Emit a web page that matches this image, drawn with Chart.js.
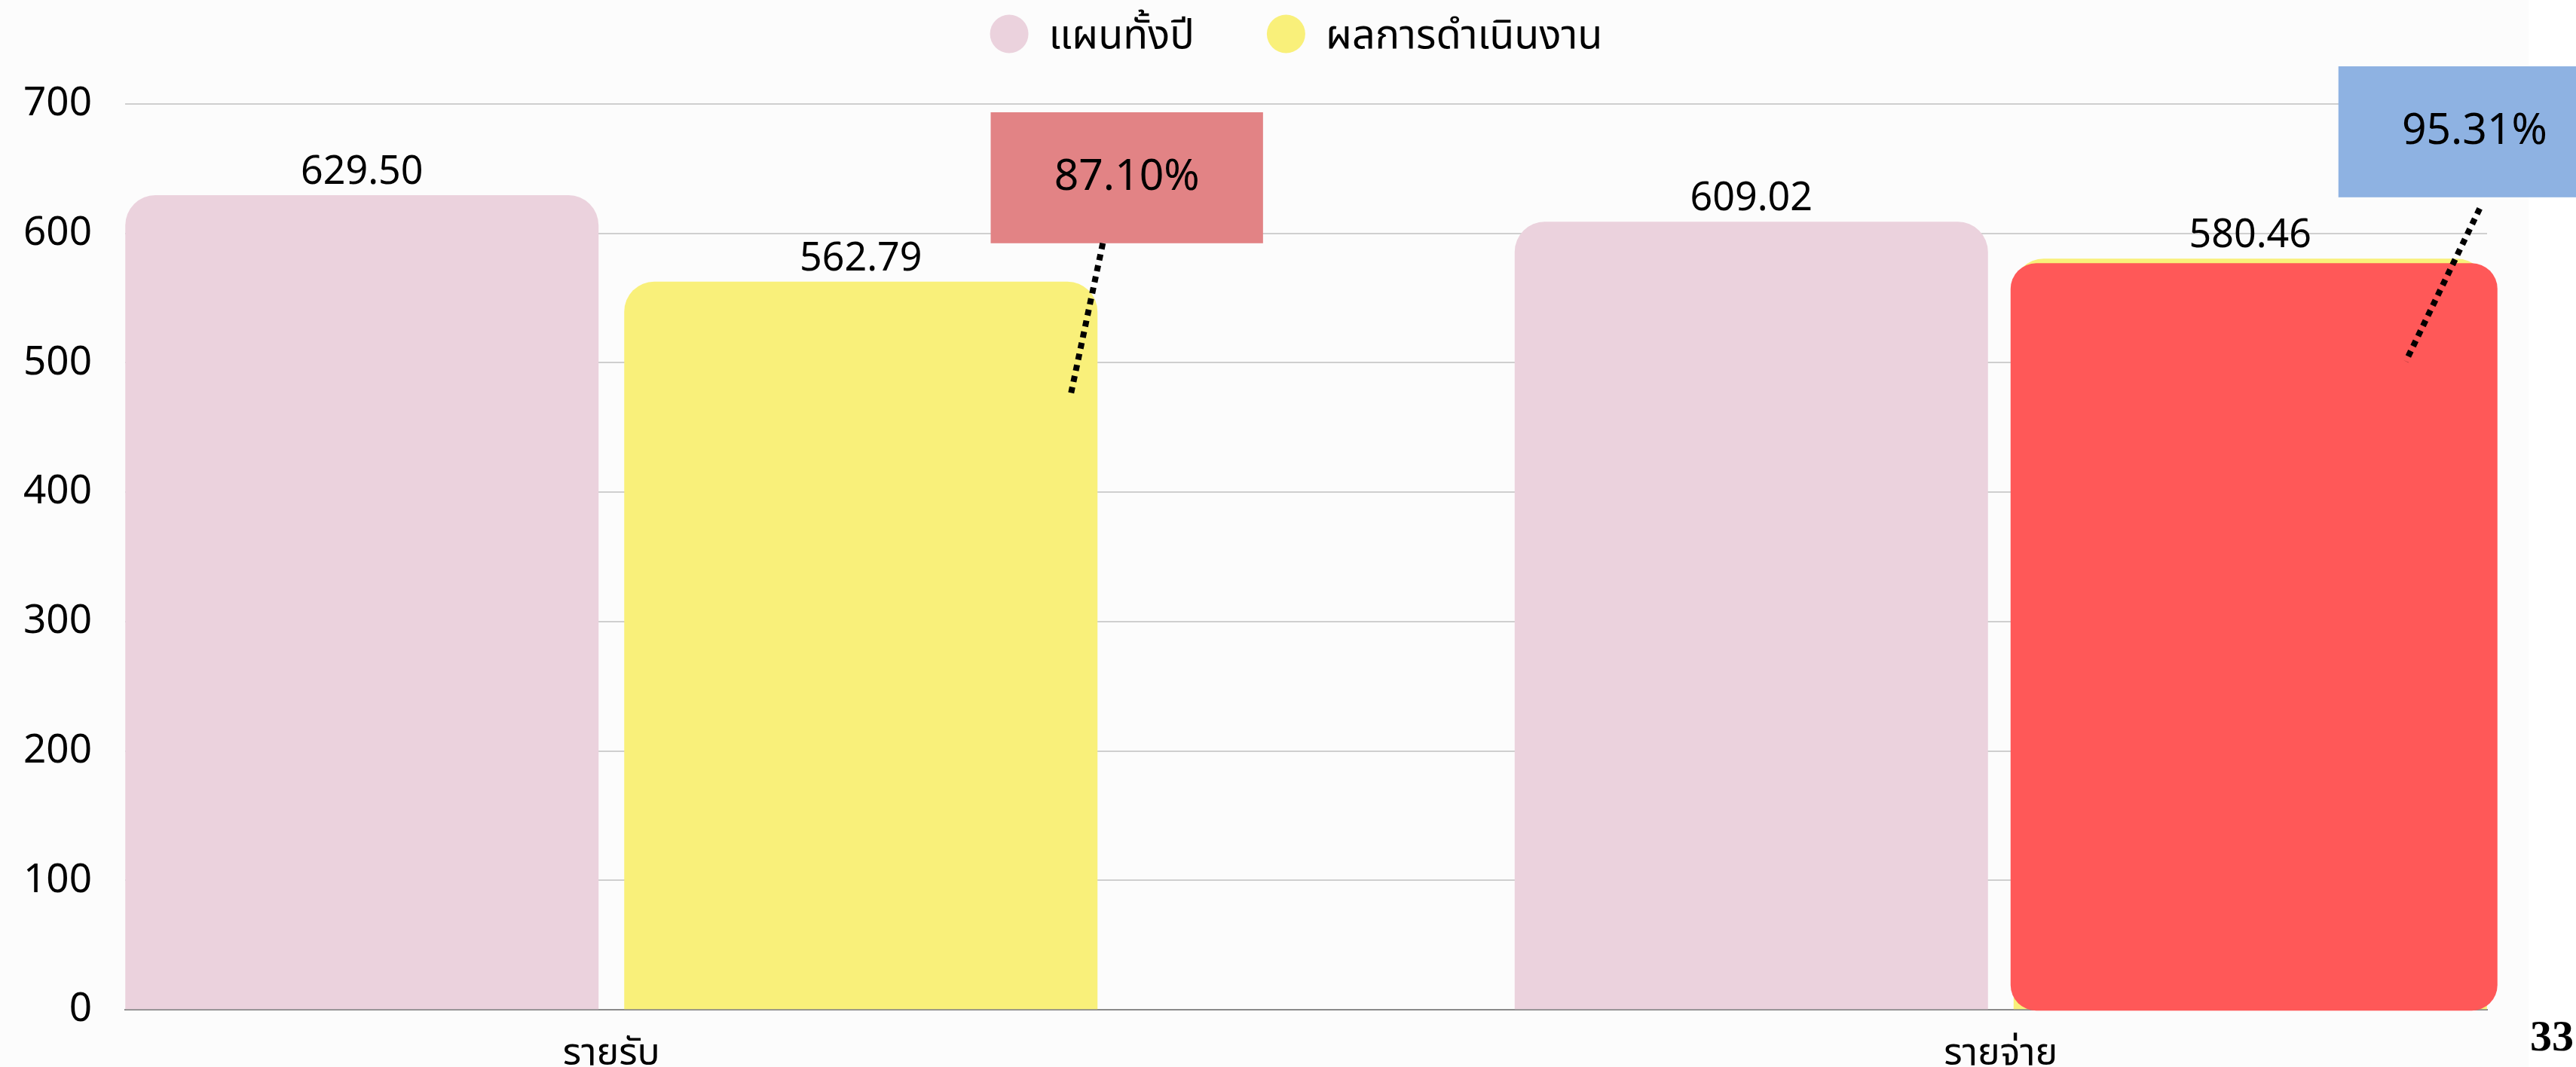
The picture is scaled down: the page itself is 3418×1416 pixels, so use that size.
<!DOCTYPE html>
<html>
<head>
<meta charset="utf-8">
<script src="https://cdn.jsdelivr.net/npm/chart.js@4.4.1/dist/chart.umd.min.js"></script>
<style>
  html, body { margin: 0; padding: 0; background: #ffffff; }
</style>
</head>
<body>
<canvas id="budgetChart" width="3418" height="1416"></canvas>
<script>
  const categories = ['รายรับ', 'รายจ่าย'];
  const seriesNames = ['แผนทั้งปี', 'ผลการดำเนินงาน'];
  const planValues = [629.50, 609.02];
  const actualValues = [562.79, 580.46];
  const achievedPct = ['87.10%', '95.31%'];
  const yTickValues = [0, 100, 200, 300, 400, 500, 600, 700];
  const pageNumber = '33';

  const FONT = "'Noto Sans', 'Noto Sans Thai', sans-serif";
  Chart.defaults.font.family = FONT;
  Chart.defaults.color = '#000000';

  // light slide background, white strip on the far right
  const pageBackground = {
    id: 'pageBackground',
    beforeDraw(chart) {
      const ctx = chart.ctx;
      ctx.save();
      ctx.fillStyle = '#ffffff';
      ctx.fillRect(0, 0, chart.width, chart.height);
      ctx.fillStyle = '#fcfcfc';
      ctx.fillRect(0, 0, 3355, chart.height);
      ctx.restore();
    }
  };

  // red highlight block laid over the second "actual" bar
  const highlightBar = {
    id: 'highlightBar',
    afterDatasetsDraw(chart, args, opts) {
      const bar = chart.getDatasetMeta(opts.datasetIndex).data[opts.index];
      if (!bar) return;
      const ctx = chart.ctx;
      const left = bar.x - bar.width / 2 - opts.padLeft;
      const right = bar.x + bar.width / 2 + opts.padRight;
      const top = bar.y + opts.padTop;
      const bottom = bar.base + opts.padBottom;
      ctx.save();
      ctx.fillStyle = opts.color;
      ctx.beginPath();
      ctx.roundRect(left, top, right - left, bottom - top, opts.radius);
      ctx.fill();
      ctx.restore();
    }
  };

  const valueLabels = {
    id: 'valueLabels',
    afterDatasetsDraw(chart, args, opts) {
      const ctx = chart.ctx;
      ctx.save();
      ctx.font = opts.font;
      ctx.fillStyle = '#000000';
      ctx.textAlign = 'center';
      ctx.textBaseline = 'alphabetic';
      chart.data.datasets.forEach((ds, di) => {
        chart.getDatasetMeta(di).data.forEach((bar, i) => {
          ctx.fillText(ds.data[i].y.toFixed(2), bar.x, bar.y - opts.offset);
        });
      });
      ctx.restore();
    }
  };

  const callouts = {
    id: 'callouts',
    afterDatasetsDraw(chart, args, opts) {
      const { ctx, scales: { x, y } } = chart;
      ctx.save();
      opts.items.forEach((c, i) => {
        const l = x.getPixelForValue(c.box[0]);
        const r = x.getPixelForValue(c.box[1]);
        const t = y.getPixelForValue(c.box[2]);
        const b = y.getPixelForValue(c.box[3]);
        ctx.fillStyle = c.color;
        ctx.fillRect(l, t, r - l, b - t);
        ctx.fillStyle = '#000000';
        ctx.font = opts.font;
        ctx.textAlign = 'center';
        ctx.textBaseline = 'middle';
        ctx.fillText(achievedPct[i], (l + r) / 2, (t + b) / 2);

        ctx.strokeStyle = '#000000';
        ctx.lineWidth = 8;
        ctx.setLineDash([8, 7]);
        ctx.beginPath();
        ctx.moveTo(x.getPixelForValue(c.line[0]), y.getPixelForValue(c.line[1]));
        ctx.lineTo(x.getPixelForValue(c.line[2]), y.getPixelForValue(c.line[3]));
        ctx.stroke();
        ctx.setLineDash([]);
      });
      ctx.restore();
    }
  };

  const dotLegend = {
    id: 'dotLegend',
    afterDraw(chart, args, opts) {
      const ctx = chart.ctx;
      ctx.save();
      ctx.font = opts.font;
      const items = chart.data.datasets.map(ds => ({
        text: ds.label,
        color: ds.backgroundColor,
        w: ctx.measureText(ds.label).width
      }));
      const total = items.reduce((s, it) => s + opts.dot + opts.gap + it.w, 0) + opts.spacing * (items.length - 1);
      let x = opts.centerX - total / 2;
      items.forEach(it => {
        ctx.fillStyle = it.color;
        ctx.beginPath();
        ctx.arc(x + opts.dot / 2, opts.y, opts.dot / 2, 0, Math.PI * 2);
        ctx.fill();
        x += opts.dot + opts.gap;
        ctx.fillStyle = '#000000';
        ctx.textAlign = 'left';
        ctx.textBaseline = 'middle';
        ctx.fillText(it.text, x, opts.y + opts.textShift);
        x += it.w + opts.spacing;
      });
      ctx.restore();
    }
  };

  const pageNo = {
    id: 'pageNo',
    afterDraw(chart) {
      const ctx = chart.ctx;
      ctx.save();
      ctx.font = "bold 58px 'Liberation Serif', serif";
      ctx.fillStyle = '#000000';
      ctx.textAlign = 'left';
      ctx.textBaseline = 'alphabetic';
      ctx.fillText(pageNumber, 3357, 1394);
      ctx.restore();
    }
  };

  const toPoints = values => values.map((v, i) => ({ x: i, y: v }));

  new Chart(document.getElementById('budgetChart'), {
    type: 'bar',
    data: {
      datasets: [
        {
          label: seriesNames[0],
          data: toPoints(planValues),
          backgroundColor: '#ebd2dd',
          borderRadius: 40,
          categoryPercentage: 0.7182,
          barPercentage: 0.9486
        },
        {
          label: seriesNames[1],
          data: toPoints(actualValues),
          backgroundColor: '#f9f07a',
          borderRadius: 40,
          categoryPercentage: 0.7182,
          barPercentage: 0.9486
        }
      ]
    },
    options: {
      responsive: false,
      animation: false,
      layout: { padding: { top: 138, right: 118, left: 0, bottom: 0 } },
      scales: {
        x: {
          type: 'linear',
          min: -0.35,
          max: 1.35,
          offset: false,
          afterBuildTicks: scale => { scale.ticks = categories.map((c, i) => ({ value: i })); },
          afterFit: scale => { scale.height = 74; },
          ticks: {
            callback: value => categories[value],
            font: { size: 50 },
            padding: 21,
            maxRotation: 0,
            autoSkip: false
          },
          grid: { display: false },
          border: { display: true, color: '#8a8a8a', width: 2 }
        },
        y: {
          min: 0,
          max: 700,
          afterBuildTicks: scale => { scale.ticks = yTickValues.map(v => ({ value: v })); },
          afterFit: scale => { scale.width = 166; },
          ticks: { font: { size: 53 }, padding: 44 },
          grid: { color: '#cfcfcf', lineWidth: 2, drawTicks: false },
          border: { display: false }
        }
      },
      plugins: {
        legend: { display: false },
        tooltip: { enabled: false },
        highlightBar: {
          datasetIndex: 1, index: 1, color: '#ff5858',
          padLeft: 4, padRight: 14, padTop: 6, padBottom: 2, radius: 34
        },
        valueLabels: { font: "52px " + FONT, offset: 15 },
        callouts: {
          font: "57px " + FONT,
          items: [
            { color: '#e28385', box: [0.273, 0.469, 693.6, 592.4], line: [0.3537, 592.4, 0.3303, 473.8] },
            { color: '#8eb2e2', box: [1.243, 1.439, 729.1, 627.9], line: [1.3447, 619.2, 1.2916, 501.2] }
          ]
        },
        dotLegend: { font: "54px " + FONT, dot: 51, gap: 27, spacing: 96, centerX: 1720, y: 45, textShift: 4 }
      }
    },
    plugins: [pageBackground, highlightBar, valueLabels, callouts, dotLegend, pageNo]
  });
</script>
</body>
</html>
